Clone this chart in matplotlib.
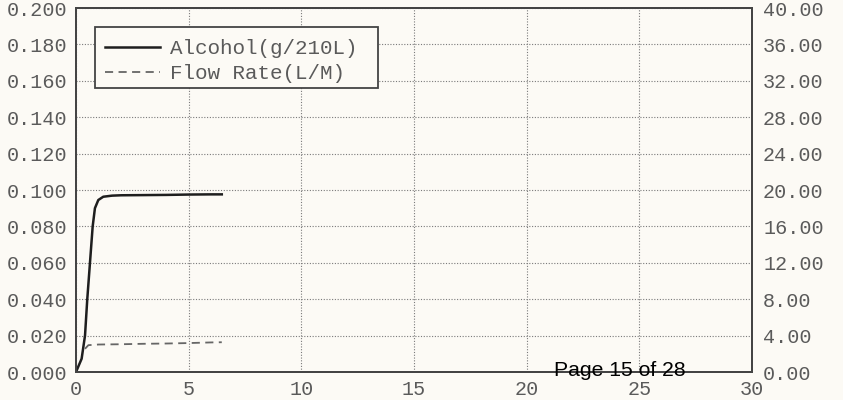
import matplotlib
matplotlib.use("Agg")
import matplotlib.pyplot as plt
from matplotlib.patches import Rectangle
from matplotlib.ticker import FormatStrFormatter

# Data
alcohol_t = [0, 0.25, 0.40, 0.50, 0.62, 0.74, 0.84, 0.99, 1.21, 1.6, 2.0, 3.0, 4.0, 5.0, 6.0, 6.47]
alcohol_v = [0, 0.0073, 0.020, 0.040, 0.060, 0.080, 0.090, 0.0945, 0.0963, 0.0969, 0.0971,
             0.0972, 0.0973, 0.0975, 0.0976, 0.0976]
flow_t = [0.40, 0.55, 1.0, 2.0, 3.0, 4.0, 5.0, 6.0, 6.47]
flow_v = [2.55, 2.95, 3.02, 3.05, 3.10, 3.13, 3.18, 3.25, 3.27]

x_ticks = [0, 5, 10, 15, 20, 25, 30]
left_ticks = [0.000, 0.020, 0.040, 0.060, 0.080, 0.100, 0.120, 0.140, 0.160, 0.180, 0.200]
right_ticks = [0, 4, 8, 12, 16, 20, 24, 28, 32, 36, 40]
legend_labels = ["Alcohol(g/210L)", "Flow Rate(L/M)"]
page_text = "Page 15 of 28"

bg = "#fcfaf5"
txt = "#5a5a5a"
mono = "Liberation Mono"
W, H = 843, 400

fig = plt.figure(figsize=(8.43, 4.00), dpi=100, facecolor=bg)
ax = fig.add_axes([76 / W, 1 - 372 / H, (752 - 76) / W, (372 - 8) / H])
ax.set_facecolor(bg)
ax2 = ax.twinx()

ax.set_xlim(0, 30)
ax.set_ylim(0, 0.2)
ax2.set_ylim(0, 40)
ax.set_xticks(x_ticks)
ax.set_yticks(left_ticks)
ax2.set_yticks(right_ticks)
ax.yaxis.set_major_formatter(FormatStrFormatter("%.3f"))
ax2.yaxis.set_major_formatter(FormatStrFormatter("%.2f"))
ax.xaxis.set_major_formatter(FormatStrFormatter("%d"))

ax.grid(True, color="#7a7a7a", linestyle=(0, (1, 1.5)), linewidth=0.8)
ax.set_axisbelow(True)

for a in (ax, ax2):
    for s in a.spines.values():
        s.set_color("#444444")
        s.set_linewidth(1.4)
ax.tick_params(axis="both", length=0, labelsize=14.5, labelcolor=txt)
ax.tick_params(axis="y", pad=6)
ax.tick_params(axis="x", pad=6)
ax2.tick_params(axis="y", length=0, labelsize=14.5, labelcolor=txt, pad=8)
for lab in ax.get_xticklabels() + ax.get_yticklabels() + ax2.get_yticklabels():
    lab.set_family(mono)

l1, = ax.plot(alcohol_t, alcohol_v, color="#1e1e1e", linewidth=1.8, label=legend_labels[0])
l2, = ax2.plot(flow_t, flow_v, color="#666666", linewidth=1.3, linestyle=(0, (4.5, 3)),
               label=legend_labels[1])

# legend frame drawn as a figure-level rectangle, legend itself frameless
box = Rectangle((95 / W, 1 - 88 / H), (378 - 95) / W, (88 - 27) / H, transform=fig.transFigure,
                facecolor=bg, edgecolor="#444444", linewidth=1.3, zorder=5)
fig.patches.append(box)

leg = fig.legend(handles=[l1, l2], loc="upper left", bbox_to_anchor=(105 / W, 1 - 39 / H),
                 prop={"family": mono, "size": 15}, frameon=False,
                 borderpad=0.0, labelspacing=0.3, handlelength=2.65, handletextpad=0.48,
                 borderaxespad=0)
leg.set_zorder(6)
for t in leg.get_texts():
    t.set_color(txt)

fig.text(554 / W, 1 - 376 / H, page_text, family="Liberation Sans", fontsize=15.2,
         color="black", ha="left", va="baseline", zorder=7)

fig.savefig("out.png", dpi=100, facecolor=bg)
